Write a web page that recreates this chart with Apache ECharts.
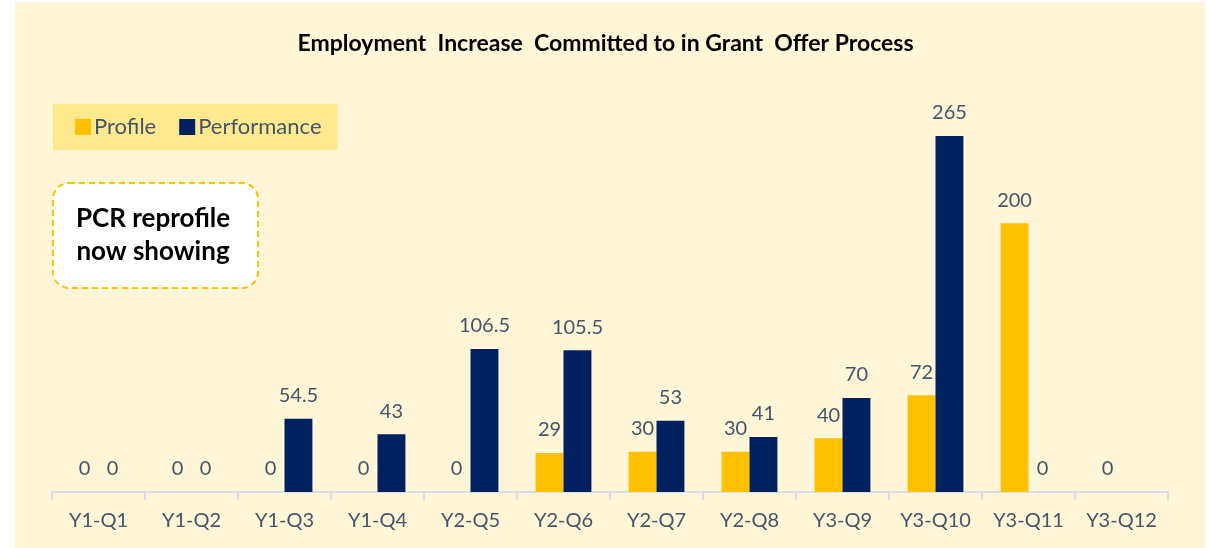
<!DOCTYPE html>
<html>
<head>
<meta charset="utf-8">
<script src="https://cdn.jsdelivr.net/npm/echarts@6/dist/echarts.min.js"></script>
<style>
  html, body { margin: 0; padding: 0; background: #fff; }
  #chart { width: 1211px; height: 548px; }
</style>
</head>
<body>
<div id="chart"></div>
<script>
const quarters = ['Y1-Q1', 'Y1-Q2', 'Y1-Q3', 'Y1-Q4', 'Y2-Q5', 'Y2-Q6', 'Y2-Q7', 'Y2-Q8', 'Y3-Q9', 'Y3-Q10', 'Y3-Q11', 'Y3-Q12']
const profile = [0, 0, 0, 0, 0, 29, 30, 30, 40, 72, 200, 0]
// Y3-Q12 has no performance figure yet
const performance = [0, 0, 54.5, 43, 106.5, 105.5, 53, 41, 70, 265, 0, null]

const textColor = '#44546A'
const font = 'Lato'

const chart = echarts.init(document.getElementById('chart'))

const labelStyle = {
  show: true,
  position: 'top',
  distance: 13,
  color: textColor,
  fontSize: 20,
  fontFamily: font,
}

chart.setOption({
  backgroundColor: '#fff',
  animation: false,
  title: {
    text: 'Employment  Increase  Committed to in Grant  Offer Process',
    left: 'center',
    top: 27,
    textStyle: { fontSize: 23, fontWeight: 'bold', color: '#000', fontFamily: font },
  },
  legend: {
    left: 53,
    top: 104,
    padding: [12, 16, 12, 22],
    backgroundColor: '#FFE98F',
    itemWidth: 16,
    itemHeight: 16,
    itemGap: 23,
    icon: 'rect',
    textStyle: { color: textColor, fontSize: 22, fontFamily: font, padding: [0, 0, 0, -2] },
    data: ['Profile', 'Performance'],
  },
  graphic: [
    {
      type: 'rect',
      z: -10,
      silent: true,
      shape: { x: 15, y: 2, width: 1190, height: 546 },
      style: { fill: '#FEF6D7' },
    },
    {
      type: 'rect',
      shape: { x: 53, y: 183, width: 205, height: 105, r: 16 },
      style: { fill: '#fff', stroke: '#FFC000', lineWidth: 2, lineDash: [6, 4] },
    },
    {
      type: 'text',
      x: 153,
      y: 235,
      style: {
        text: 'PCR reprofile\nnow showing',
        align: 'center',
        verticalAlign: 'middle',
        fontSize: 26,
        fontWeight: 'bold',
        fontFamily: font,
        lineHeight: 33,
        fill: '#000',
      },
    },
  ],
  grid: { left: 52, right: 43, top: 89, bottom: 56 },
  xAxis: {
    type: 'category',
    data: quarters,
    axisLine: { lineStyle: { color: '#D9DEE6', width: 2 } },
    axisTick: { show: true, length: 8, lineStyle: { color: '#D9DEE6', width: 2 } },
    axisLabel: { color: textColor, fontSize: 20, fontFamily: font, margin: 19 },
  },
  yAxis: {
    type: 'value',
    min: 0,
    max: 300,
    show: false,
    splitLine: { show: false },
  },
  series: [
    {
      name: 'Profile',
      type: 'bar',
      data: profile,
      barGap: '0%',
      barCategoryGap: '40%',
      itemStyle: { color: '#FFC000' },
      label: labelStyle,
    },
    {
      name: 'Performance',
      type: 'bar',
      data: performance,
      itemStyle: { color: '#002060' },
      label: labelStyle,
    },
  ],
})
</script>
</body>
</html>
